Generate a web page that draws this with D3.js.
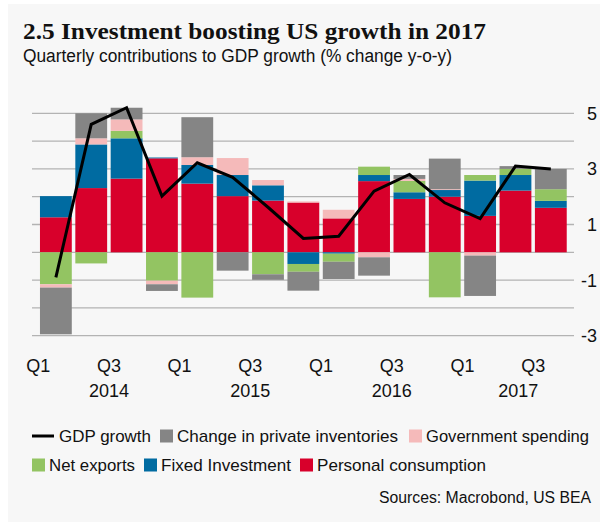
<!DOCTYPE html>
<html><head><meta charset="utf-8">
<script src="https://cdn.jsdelivr.net/npm/d3@7/dist/d3.min.js"></script>
<style>body{margin:0;background:#fff}svg{display:block}</style>
</head><body>
<svg id="chart" width="600" height="524"></svg>
<script>
// ---- data (percentage-point contributions, y-o-y) ----
const quarters = ["2014Q1","2014Q2","2014Q3","2014Q4","2015Q1","2015Q2","2015Q3","2015Q4","2016Q1","2016Q2","2016Q3","2016Q4","2017Q1","2017Q2","2017Q3"];
const consumption = [1.26, 2.31, 2.65, 3.38, 2.47, 2.02, 1.86, 1.79, 1.22, 2.56, 1.92, 2.00, 1.31, 2.22, 1.60];
const investment  = [0.76, 1.57, 1.45, 0.03, 0.67, 0.76, 0.55, -0.42, -0.05, 0.22, 0.24, 0.24, 1.27, 0.56, 0.25];
const netExports  = [-1.15, -0.40, 0.27, -1.02, -1.63, 0.00, -0.79, -0.28, -0.29, 0.30, 0.41, -1.62, 0.20, 0.22, 0.42];
const government  = [-0.12, 0.22, 0.41, -0.13, 0.28, 0.61, 0.19, 0.04, 0.31, -0.18, 0.07, 0.03, -0.12, 0.00, 0.00];
const inventories = [-1.68, 0.90, 0.42, -0.24, 1.44, -0.66, -0.20, -0.68, -0.62, -0.66, 0.14, 1.10, -1.45, 0.10, 0.73];
const gdpGrowth   = [-0.90, 4.60, 5.20, 2.02, 3.22, 2.70, 1.62, 0.50, 0.58, 2.20, 2.80, 1.78, 1.21, 3.10, 3.00];
const xTickLabels = ["Q1","Q3","Q1","Q3","Q1","Q3","Q1","Q3"];
const xTickIndex  = [0, 2, 4, 6, 8, 10, 12, 14];
const years       = ["2014","2015","2016","2017"];
const yTicks      = [-3, -2, -1, 0, 1, 2, 3, 4, 5];
const yTickLabels = [-3, -1, 1, 3, 5];

const seriesKeys   = ["consumption","investment","netExports","government","inventories"];
const seriesNames  = {consumption:"Personal consumption", investment:"Fixed Investment", netExports:"Net exports", government:"Government spending", inventories:"Change in private inventories"};
const seriesColors = {consumption:"#d8002b", investment:"#006ba1", netExports:"#93c462", government:"#f5baba", inventories:"#858585"};

const rows = quarters.map((q, i) => ({
  q, consumption: consumption[i], investment: investment[i], netExports: netExports[i],
  government: government[i], inventories: inventories[i], gdp: gdpGrowth[i]
}));

const svg = d3.select("#chart");
const SANS = "'Liberation Sans', Arial, sans-serif";

// background panel
svg.append("rect").attr("x",0).attr("y",0).attr("width",600).attr("height",524).attr("fill","#ffffff");
svg.append("rect").attr("x",8).attr("y",4).attr("width",592).attr("height",518).attr("fill","#f7f7f7");

// scales
const x = d3.scaleBand().domain(quarters).range([38.2, 568.5]).paddingInner(0.1).paddingOuter(0.05);
const y = d3.scaleLinear().domain([-3, 5]).range([335.7, 113.3]);
const gridX0 = 32, gridX1 = 574;

// gridlines
svg.append("g").selectAll("line").data(yTicks).join("line")
  .attr("x1", gridX0).attr("x2", gridX1)
  .attr("y1", d => y(d)).attr("y2", d => y(d))
  .attr("stroke", "#b3b3b3").attr("stroke-width", 1.3);

// y labels (right)
svg.append("g").selectAll("text").data(yTickLabels).join("text")
  .attr("x", 597).attr("y", d => y(d)).attr("dy", "0.36em")
  .attr("text-anchor", "end").attr("font-family", SANS).attr("font-size", 18).attr("fill", "#111")
  .text(d => d);

// stacked bars
const stack = d3.stack().keys(seriesKeys).offset(d3.stackOffsetDiverging);
const layers = stack(rows);
svg.append("g").selectAll("g").data(layers).join("g")
  .attr("fill", d => seriesColors[d.key])
  .selectAll("rect").data(d => d).join("rect")
  .attr("x", d => x(d.data.q))
  .attr("width", x.bandwidth())
  .attr("y", d => y(Math.max(d[0], d[1])))
  .attr("height", d => Math.abs(y(d[0]) - y(d[1])));

// GDP line
const line = d3.line().x(d => x(d.q) + x.bandwidth()/2).y(d => y(d.gdp));
svg.append("path").datum(rows).attr("d", line)
  .attr("fill", "none").attr("stroke", "#000").attr("stroke-width", 3).attr("stroke-linejoin", "miter");

// x labels
const half = (x.step() - x.bandwidth()) / 2;
svg.append("g").selectAll("text").data(xTickIndex).join("text")
  .attr("x", (d) => x(quarters[d]) - half)
  .attr("y", 372).attr("text-anchor", "middle")
  .attr("font-family", SANS).attr("font-size", 18).attr("fill", "#111")
  .text((d, i) => xTickLabels[i]);

// year labels centered on each year's span (clipped to plot)
svg.append("g").selectAll("text").data(years).join("text")
  .attr("x", yr => {
    const qs = quarters.filter(q => q.startsWith(yr));
    const s = x(qs[0]) - half;
    const e = Math.min(x(yr + "Q4") !== undefined ? x(yr + "Q4") + x.bandwidth() + half : gridX1, gridX1);
    return (s + e) / 2;
  })
  .attr("y", 397).attr("text-anchor", "middle")
  .attr("font-family", SANS).attr("font-size", 18).attr("fill", "#111")
  .text(d => d);

// title
svg.append("text").attr("x", 23).attr("y", 39)
  .attr("font-family", "'Liberation Serif', 'DejaVu Serif', serif").attr("font-weight", "bold")
  .attr("font-size", 23).attr("fill", "#111")
  .attr("textLength", 463).attr("lengthAdjust", "spacingAndGlyphs")
  .text("2.5 Investment boosting US growth in 2017");
svg.append("text").attr("x", 23).attr("y", 62)
  .attr("font-family", SANS).attr("font-size", 18).attr("fill", "#111")
  .attr("textLength", 429).attr("lengthAdjust", "spacingAndGlyphs")
  .text("Quarterly contributions to GDP growth (% change y-o-y)");

// legend
const legendItems = [
  {type:"line", label:"GDP growth", sx:32, tx:59, w:92, row:0},
  {type:"rect", key:"inventories", sx:160, tx:177, w:221, row:0},
  {type:"rect", key:"government", sx:409, tx:426, w:163, row:0},
  {type:"rect", key:"netExports", sx:32, tx:49, w:86, row:1},
  {type:"rect", key:"investment", sx:144, tx:161, w:130, row:1},
  {type:"rect", key:"consumption", sx:300, tx:317, w:169, row:1}
];
const rowY = [436, 465];
const lg = svg.append("g");
legendItems.forEach(it => {
  const cy = rowY[it.row];
  if (it.type === "line") {
    lg.append("line").attr("x1", it.sx).attr("x2", it.sx + 22).attr("y1", cy).attr("y2", cy)
      .attr("stroke", "#000").attr("stroke-width", 3);
  } else {
    lg.append("rect").attr("x", it.sx).attr("y", cy - 6.5).attr("width", 13).attr("height", 13)
      .attr("fill", seriesColors[it.key]);
  }
  lg.append("text").attr("x", it.tx).attr("y", cy).attr("dy", "0.36em")
    .attr("font-family", SANS).attr("font-size", 17).attr("fill", "#111")
    .attr("textLength", it.w).attr("lengthAdjust", "spacingAndGlyphs")
    .text(it.label || seriesNames[it.key]);
});

// source
svg.append("text").attr("x", 379).attr("y", 497).attr("dy", "0.36em").attr("text-anchor", "start")
  .attr("font-family", SANS).attr("font-size", 16).attr("fill", "#111")
  .attr("textLength", 212).attr("lengthAdjust", "spacingAndGlyphs")
  .text("Sources: Macrobond, US BEA");
</script>
</body></html>
